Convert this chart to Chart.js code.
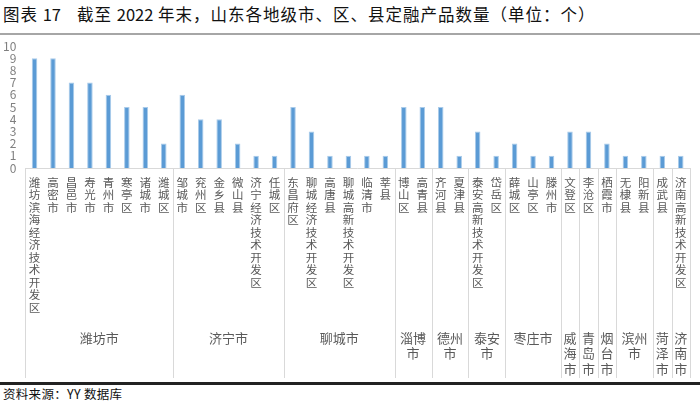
<!DOCTYPE html>
<html>
<head>
<meta charset="utf-8">
<script src="https://cdn.jsdelivr.net/npm/chart.js@4"></script>
<style>
  body { margin: 0; width: 700px; height: 408px; background: #fff; position: relative; overflow: hidden;
         font-family: "Noto Sans CJK SC", "Noto Sans", sans-serif; }
  #title { position: absolute; left: 3px; top: 2px; font-size: 16.5px; color: #111; white-space: nowrap; letter-spacing: 1px; }
  #title .n { letter-spacing: 0; }
  #topline { position: absolute; left: 0; top: 33px; width: 700px; height: 2px; background: #a6a6a6; }
  #wrap { position: absolute; left: 0; top: 31px; width: 700px; height: 349px; }
  #botline { position: absolute; left: 0; top: 382px; width: 700px; height: 3px; background: #222; }
  #source { position: absolute; left: 3px; top: 384px; font-size: 12.5px; color: #111; white-space: nowrap; letter-spacing: 0.3px; }
</style>
</head>
<body>
<div id="title">图表 <span class="n">17</span><span style="display:inline-block;width:16px"></span>截至 <span class="n">2022</span> 年末，山东各地级市、区、县定融产品数量（单位：个）</div>
<div id="topline"></div>
<div id="wrap"><canvas id="chart"></canvas></div>
<div id="botline"></div>
<div id="source">资料来源：YY 数据库</div>
<script>
const cities = ['潍坊市', '济宁市', '聊城市', '淄博市', '德州市', '泰安市', '枣庄市', '威海市', '青岛市', '烟台市', '滨州市', '菏泽市', '济南市'];
const citySizes = [8, 6, 6, 2, 2, 2, 3, 1, 1, 1, 2, 1, 1];
const districts = [
  '潍坊滨海经济技术开发区', '高密市', '昌邑市', '寿光市', '青州市', '寒亭区', '诸城市', '潍城区',
  '邹城市', '兖州区', '金乡县', '微山县', '济宁经济技术开发区', '任城区',
  '东昌府区', '聊城经济技术开发区', '高唐县', '聊城高新技术开发区', '临清市', '莘县',
  '博山区', '高青县',
  '齐河县', '夏津县',
  '泰安高新技术开发区', '岱岳区',
  '薛城区', '山亭区', '滕州市',
  '文登区',
  '李沧区',
  '栖霞市',
  '无棣县', '阳新县',
  '成武县',
  '济南高新技术开发区'
];
const counts = [9, 9, 7, 7, 6, 5, 5, 2, 6, 4, 4, 2, 1, 1, 5, 3, 1, 1, 1, 1, 5, 5, 5, 1, 3, 1, 2, 1, 1, 3, 3, 2, 1, 1, 1, 1];
const yTicks = [0, 1, 2, 3, 4, 5, 6, 7, 8, 9, 10];

const gridGrey = '#d9d9d9';
const labelGrey = '#595959';

// group separators, axis line and city names under the district labels
const cityAxis = {
  id: 'cityAxis',
  afterDraw(chart) {
    const ctx = chart.ctx;
    const x = chart.scales.x;
    const area = chart.chartArea;
    const n = districts.length;
    const edge = (i) => {
      if (i === 0) return area.left;
      if (i === n) return area.right;
      return (x.getPixelForValue(i - 1) + x.getPixelForValue(i)) / 2;
    };
    ctx.save();
    ctx.strokeStyle = gridGrey;
    ctx.lineWidth = 1;
    ctx.beginPath();
    ctx.moveTo(area.left, area.bottom + 0.5);
    ctx.lineTo(area.right, area.bottom + 0.5);
    ctx.stroke();

    ctx.fillStyle = labelGrey;
    ctx.font = '13px "Noto Sans CJK SC"';
    ctx.textAlign = 'center';
    ctx.textBaseline = 'middle';
    let start = 0;
    cities.forEach((name, g) => {
      const end = start + citySizes[g];
      const x0 = edge(start), x1 = edge(end);
      [x0, x1].forEach((xx) => {
        ctx.beginPath();
        ctx.moveTo(Math.round(xx) + 0.5, area.bottom);
        ctx.lineTo(Math.round(xx) + 0.5, area.bottom + 210);
        ctx.stroke();
      });
      const perLine = Math.max(1, Math.floor((x1 - x0 - 4) / 13));
      const lines = [];
      for (let k = 0; k < name.length; k += perLine) lines.push(name.slice(k, k + perLine));
      lines.forEach((ln, j) => {
        ctx.fillText(ln, (x0 + x1) / 2, area.bottom + 170 + j * 15.5);
      });
      start = end;
    });
    ctx.restore();
  }
};

new Chart(document.getElementById('chart'), {
  type: 'bar',
  data: {
    labels: districts.map((d) => d.split('')),
    datasets: [{
      data: counts,
      backgroundColor: '#5b9bd5',
      borderColor: '#a9cbea',
      borderWidth: 1,
      barPercentage: 0.3,
      categoryPercentage: 1
    }]
  },
  options: {
    responsive: true,
    maintainAspectRatio: false,
    animation: false,
    layout: { padding: { top: 1, right: 10, left: 0, bottom: 0 } },
    plugins: { legend: { display: false }, tooltip: { enabled: false } },
    scales: {
      x: {
        grid: { display: false, drawTicks: false },
        border: { display: false },
        ticks: {
          autoSkip: false, maxRotation: 0, minRotation: 0, padding: 8,
          color: labelGrey,
          font: { family: '"Noto Sans CJK SC"', size: 11.5, lineHeight: 1.09 }
        },
        afterFit: (s) => { s.height = 212; }
      },
      y: {
        min: 0, max: 10,
        grid: { display: false, drawTicks: false },
        border: { display: false },
        afterBuildTicks: (s) => { s.ticks = yTicks.map((v) => ({ value: v })); },
        ticks: {
          autoSkip: false, padding: 9,
          color: '#7f7f7f',
          font: { family: '"Noto Sans CJK SC"', size: 12, lineHeight: 1 }
        },
        afterFit: (s) => { s.width = 25.3; }
      }
    }
  },
  plugins: [cityAxis]
});
</script>
</body>
</html>
